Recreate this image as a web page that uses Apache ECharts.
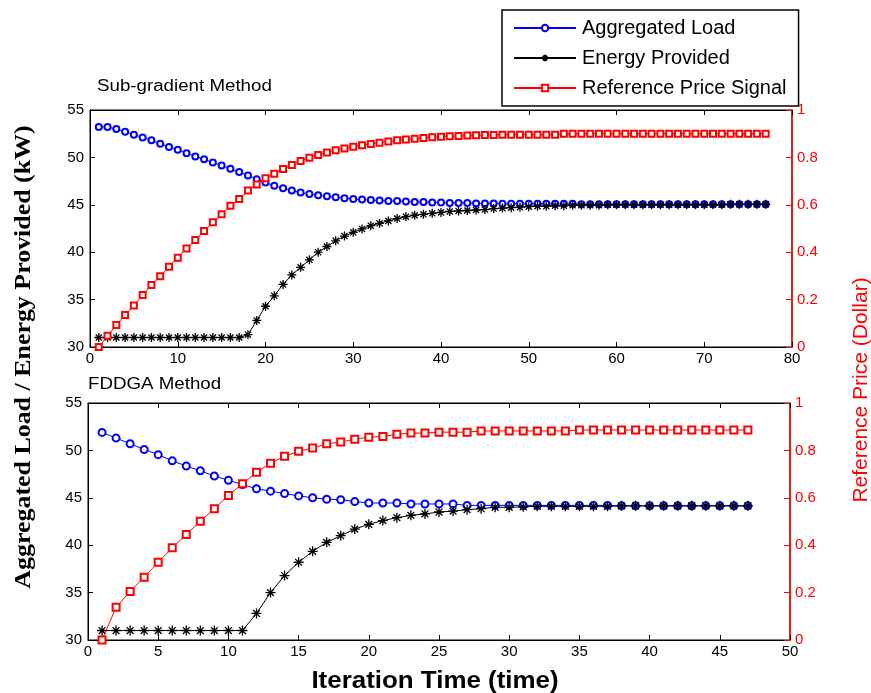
<!DOCTYPE html>
<html>
<head>
<meta charset="utf-8">
<script src="https://cdn.jsdelivr.net/npm/echarts@6/dist/echarts.min.js"></script>
<style>
html,body{margin:0;padding:0;background:#fff;}
#chart{width:871px;height:693px;}
</style>
</head>
<body>
<div id="chart"></div>
<script>
// ---- Data (iteration index starts at 1) ----
const seriesNames = ['Aggregated Load', 'Energy Provided', 'Reference Price Signal'];
const panelTitles = ['Sub-gradient Method', 'FDDGA Method'];

// Top panel: Sub-gradient Method (77 iterations)
const topLoad = [53.2, 53.2, 53.0, 52.7, 52.4, 52.1, 51.8, 51.45, 51.1, 50.8,
  50.45, 50.1, 49.8, 49.45, 49.15, 48.8, 48.45, 48.1, 47.7, 47.35,
  47.0, 46.75, 46.5, 46.3, 46.15, 46.0, 45.9, 45.8, 45.7, 45.6,
  45.55, 45.5, 45.45, 45.4, 45.4, 45.35, 45.3, 45.3, 45.25, 45.25,
  45.2, 45.2, 45.2, 45.15, 45.15, 45.15, 45.1, 45.1, 45.1, 45.1,
  45.1, 45.1, 45.1, 45.1, 45.1, 45.05, 45.05, 45.05, 45.05, 45.05,
  45.05, 45.05, 45.05, 45.05, 45.05, 45.05, 45.05, 45.05, 45.05, 45.05,
  45.05, 45.05, 45.05, 45.05, 45.05, 45.05, 45.05];
const topEnergy = [31.0, 31.0, 31.0, 31.0, 31.0, 31.0, 31.0, 31.0, 31.0, 31.0,
  31.0, 31.0, 31.0, 31.0, 31.0, 31.0, 31.0, 31.3, 32.8, 34.3,
  35.4, 36.6, 37.6, 38.4, 39.2, 40.0, 40.6, 41.2, 41.7, 42.1,
  42.45, 42.8, 43.05, 43.3, 43.55, 43.75, 43.9, 44.0, 44.1, 44.2,
  44.3, 44.35, 44.4, 44.45, 44.5, 44.6, 44.65, 44.7, 44.75, 44.8,
  44.85, 44.85, 44.9, 44.9, 44.95, 44.95, 44.95, 44.95, 45.0, 45.0,
  45.0, 45.0, 45.0, 45.0, 45.0, 45.0, 45.0, 45.0, 45.0, 45.0,
  45.0, 45.0, 45.05, 45.05, 45.05, 45.05, 45.05];
const topPrice = [0, 0.047, 0.093, 0.135, 0.175, 0.219, 0.262, 0.298, 0.339, 0.377,
  0.416, 0.451, 0.489, 0.526, 0.56, 0.596, 0.624, 0.66, 0.686, 0.712,
  0.731, 0.751, 0.768, 0.785, 0.799, 0.81, 0.821, 0.83, 0.838, 0.845,
  0.851, 0.857, 0.862, 0.867, 0.872, 0.876, 0.879, 0.882, 0.885, 0.887,
  0.889, 0.89, 0.892, 0.893, 0.894, 0.895, 0.896, 0.896, 0.896, 0.896,
  0.896, 0.896, 0.896, 0.9, 0.9, 0.9, 0.9, 0.9, 0.9, 0.9,
  0.9, 0.9, 0.9, 0.9, 0.9, 0.9, 0.9, 0.9, 0.9, 0.9,
  0.9, 0.9, 0.9, 0.9, 0.9, 0.9, 0.9];

// Bottom panel: FDDGA Method (47 iterations)
const botLoad = [51.9, 51.3, 50.7, 50.1, 49.55, 48.9, 48.35, 47.85, 47.3, 46.85,
  46.4, 45.95, 45.7, 45.45, 45.2, 45.0, 44.85, 44.8, 44.6, 44.45,
  44.45, 44.45, 44.35, 44.35, 44.35, 44.35, 44.2, 44.2, 44.2, 44.2,
  44.2, 44.2, 44.2, 44.2, 44.2, 44.2, 44.2, 44.15, 44.15, 44.15,
  44.15, 44.15, 44.15, 44.15, 44.15, 44.15, 44.15];
const botEnergy = [31.0, 31.0, 31.0, 31.0, 31.0, 31.0, 31.0, 31.0, 31.0, 31.0,
  31.0, 32.8, 35.0, 36.8, 38.2, 39.35, 40.3, 41.0, 41.7, 42.2,
  42.6, 42.9, 43.15, 43.3, 43.5, 43.6, 43.75, 43.85, 44.0, 44.0,
  44.05, 44.1, 44.1, 44.1, 44.1, 44.1, 44.1, 44.15, 44.15, 44.15,
  44.15, 44.15, 44.15, 44.15, 44.15, 44.15, 44.15];
const botPrice = [0, 0.138, 0.205, 0.265, 0.328, 0.389, 0.445, 0.501, 0.554, 0.61,
  0.659, 0.708, 0.746, 0.775, 0.796, 0.81, 0.828, 0.835, 0.847, 0.856,
  0.859, 0.868, 0.873, 0.873, 0.877, 0.877, 0.877, 0.882, 0.882, 0.882,
  0.882, 0.882, 0.882, 0.882, 0.886, 0.886, 0.886, 0.886, 0.886, 0.886,
  0.886, 0.886, 0.886, 0.886, 0.886, 0.886, 0.886];

// Axis ranges
const topX = {min: 0, max: 80, interval: 10};
const botX = {min: 0, max: 50, interval: 5};
const leftY = {min: 30, max: 55, interval: 5};
const rightY = {min: 0, max: 1, interval: 0.2};

const pairs = arr => arr.map((v, i) => [i + 1, v]);

const FONT = 'Liberation Sans, Arial, sans-serif';
const asterisk = 'path://M5,0L5,10M0,5L10,5M1.6,1.6L8.4,8.4M1.6,8.4L8.4,1.6';

const grids = [
  {left: 90, right: 79, top: 110, height: 237},
  {left: 88, right: 81, top: 403, height: 237}
];

function xAxisBottom(gi, r) {
  return {
    type: 'value', gridIndex: gi, position: 'bottom', min: r.min, max: r.max, interval: r.interval,
    axisLine: {show: true, onZero: false, lineStyle: {color: '#000', width: 1}},
    axisTick: {show: true, inside: true, length: 5, lineStyle: {color: '#000'}},
    axisLabel: {color: '#000', fontSize: 15, fontFamily: FONT, margin: 4},
    splitLine: {show: false}
  };
}
function xAxisTop(gi, r) {
  return {
    type: 'value', gridIndex: gi, position: 'top', min: r.min, max: r.max, interval: r.interval,
    axisLine: {show: true, onZero: false, lineStyle: {color: '#000', width: 1}},
    axisTick: {show: true, inside: true, length: 5, lineStyle: {color: '#000'}},
    axisLabel: {show: false},
    splitLine: {show: false}
  };
}
function yLeft(gi) {
  return {
    type: 'value', gridIndex: gi, position: 'left', min: leftY.min, max: leftY.max, interval: leftY.interval,
    axisLine: {show: true, onZero: false, lineStyle: {color: '#000', width: 1}},
    axisTick: {show: true, inside: true, length: 5, lineStyle: {color: '#000'}},
    axisLabel: {color: '#000', fontSize: 15, fontFamily: FONT, margin: 6},
    splitLine: {show: false}
  };
}
function yRight(gi) {
  return {
    type: 'value', gridIndex: gi, position: 'right', min: rightY.min, max: rightY.max, interval: rightY.interval,
    axisLine: {show: true, onZero: false, lineStyle: {color: '#ff0000', width: 1.5}},
    axisTick: {show: true, inside: true, length: 6, lineStyle: {color: '#ff0000'}},
    axisLabel: {color: '#ff0000', fontSize: 15, fontFamily: FONT, margin: 5,
      formatter: v => (v === 0 ? '0' : v === 1 ? '1' : String(Math.round(v * 10) / 10))},
    splitLine: {show: false}
  };
}

function loadSeries(data, xi, yi, sz) {
  return {
    name: seriesNames[0], type: 'line', xAxisIndex: xi, yAxisIndex: yi, data: pairs(data),
    symbol: 'emptyCircle', symbolSize: sz, lineStyle: {color: '#0000ff', width: 1},
    itemStyle: {color: '#0000ff', borderColor: '#0000ff', borderWidth: 1}, animation: false, z: 3
  };
}
function energySeries(data, xi, yi, sz) {
  return {
    name: seriesNames[1], type: 'line', xAxisIndex: xi, yAxisIndex: yi, data: pairs(data),
    symbol: asterisk, symbolSize: sz, lineStyle: {color: '#000', width: 1},
    itemStyle: {color: '#000', borderColor: '#000', borderWidth: 1.3}, animation: false, z: 4
  };
}
function priceSeries(data, xi, yi, sz) {
  return {
    name: seriesNames[2], type: 'line', xAxisIndex: xi, yAxisIndex: yi, data: pairs(data),
    symbol: 'emptyRect', symbolSize: sz, lineStyle: {color: '#ff0000', width: 1},
    itemStyle: {color: '#ff0000', borderColor: '#ff0000', borderWidth: 1}, animation: false, z: 5
  };
}

const chart = echarts.init(document.getElementById('chart'), null, {renderer: 'canvas'});
chart.setOption({
  backgroundColor: '#fff',
  animation: false,
  grid: grids.map(g => Object.assign({show: true, borderColor: '#000', borderWidth: 1, backgroundColor: '#fff'}, g)),
  xAxis: [xAxisBottom(0, topX), xAxisTop(0, topX), xAxisBottom(1, botX), xAxisTop(1, botX)],
  yAxis: [yLeft(0), yRight(0), yLeft(1), yRight(1)],
  legend: {
    orient: 'vertical', left: 502, top: 10,
    data: seriesNames,
    itemWidth: 62, itemHeight: 8, itemGap: 10,
    padding: [8, 12, 8, 11],
    borderColor: '#000', borderWidth: 1.5, backgroundColor: '#fff',
    textStyle: {color: '#000', fontSize: 20, fontFamily: FONT, padding: [0, 0, 0, 1]},
    selectedMode: false
  },
  graphic: [
    {type: 'text', left: 97, top: 79, scaleX: 1.17,
      style: {text: panelTitles[0], fontSize: 16, fontFamily: FONT, fill: '#000'}},
    {type: 'text', left: 88, top: 377, scaleX: 1.17,
      style: {text: panelTitles[1], fontSize: 16, fontFamily: FONT, fill: '#000'}},
    {type: 'text', x: 24, y: 357, rotation: Math.PI / 2, scaleX: 1.08,
      style: {text: 'Aggregated Load / Energy Provided (kW)', fontSize: 24, fontWeight: 'bold',
        fontFamily: 'Liberation Serif, Times New Roman, serif', fill: '#000', align: 'center', verticalAlign: 'middle'}},
    {type: 'text', x: 861, y: 390, rotation: Math.PI / 2,
      style: {text: 'Reference Price (Dollar)', fontSize: 21, fontFamily: FONT, fill: '#ff0000',
        align: 'center', verticalAlign: 'middle'}},
    {type: 'text', x: 435, y: 681, scaleX: 1.08,
      style: {text: 'Iteration Time (time)', fontSize: 24, fontWeight: 'bold', fontFamily: FONT, fill: '#000',
        align: 'center', verticalAlign: 'middle'}}
  ],
  series: [
    loadSeries(topLoad, 0, 0, 6),
    energySeries(topEnergy, 0, 0, 9),
    priceSeries(topPrice, 0, 1, 6),
    loadSeries(botLoad, 2, 2, 7),
    energySeries(botEnergy, 2, 2, 10),
    priceSeries(botPrice, 2, 3, 7)
  ]
});
</script>
</body>
</html>
